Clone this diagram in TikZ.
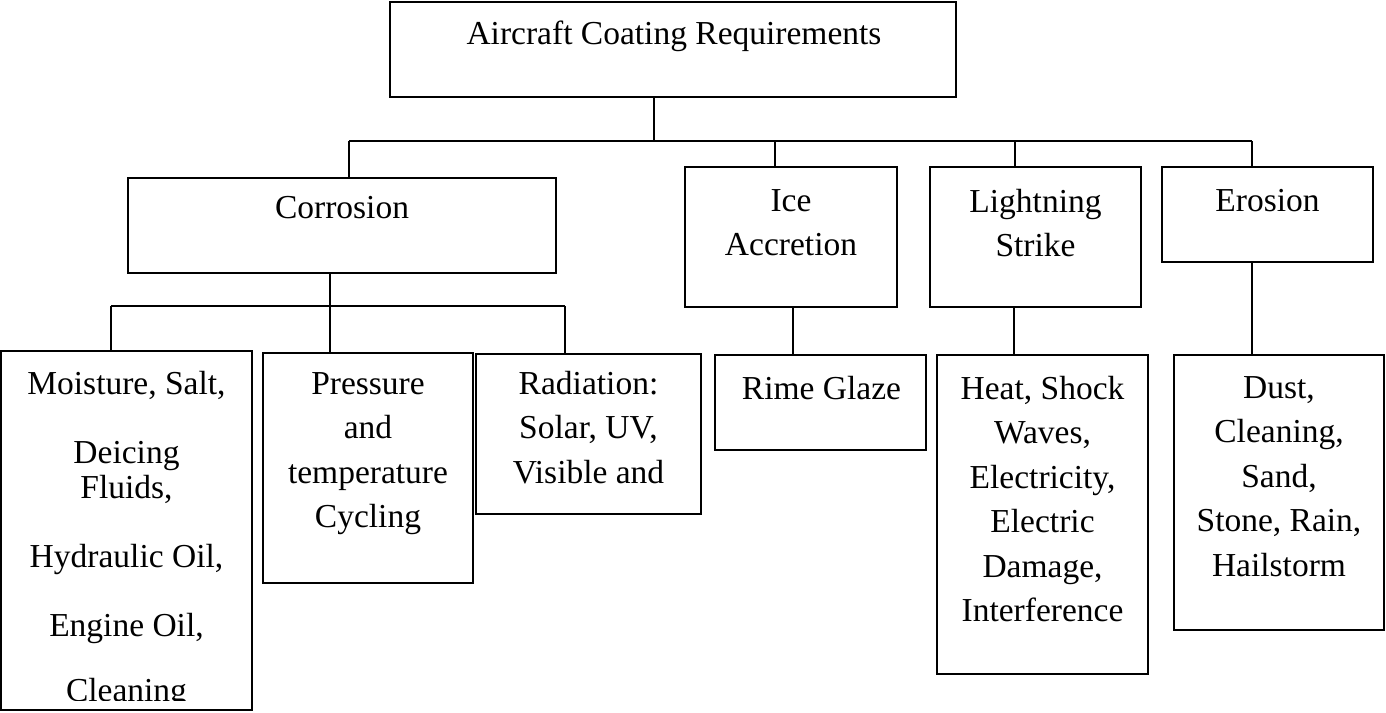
\documentclass[tikz,border=0pt]{standalone}
\usepackage{fontspec}
\setmainfont{Liberation Serif}
\usetikzlibrary{calc}
\tikzset{
  box/.style={draw, line width=1.3pt, inner sep=0pt},
  txt/.style={anchor=north, inner sep=0pt, align=center, font=\fontsize{16.75pt}{22.25pt}\selectfont},
  conn/.style={line width=0.9pt},
}
\begin{document}
\begin{tikzpicture}[x=0.5pt,y=-0.5pt]
\useasboundingbox (0,0) rectangle (1386,712);
% boxes
\node[box, minimum width=283pt, minimum height=47.5pt] (top) at (673,49.5) {};
\node[box, minimum width=214pt, minimum height=47.5pt] (corr) at (342,225.5) {};
\node[box, minimum width=106pt, minimum height=70pt] (ice) at (791,237) {};
\node[box, minimum width=105.5pt, minimum height=70pt] (light) at (1035.5,237) {};
\node[box, minimum width=105.5pt, minimum height=47.5pt] (eros) at (1267.5,214.5) {};
\node[box, minimum width=125.5pt, minimum height=179.5pt] (moist) at (126.5,530.5) {};
\node[box, minimum width=105pt, minimum height=115pt] (press) at (368,468) {};
\node[box, minimum width=112.5pt, minimum height=80pt] (rad) at (588.5,434) {};
\node[box, minimum width=105.5pt, minimum height=47.5pt] (rime) at (820.5,402.5) {};
\node[box, minimum width=105.5pt, minimum height=159.5pt] (heat) at (1042.5,514.5) {};
\node[box, minimum width=105pt, minimum height=137.5pt] (dust) at (1279,492.5) {};
% texts
\node[txt] (ttop) at ($(top.north)+(1,20)$) {Aircraft Coating Requirements};
\node[txt] (tcorr) at ($(corr.north)+(0,19)$) {Corrosion};
\node[txt] (tice) at ($(ice.north)+(0,23)$) {Ice\\Accretion};
\node[txt] (tlight) at ($(light.north)+(0,23)$) {Lightning\\Strike};
\node[txt] (teros) at ($(eros.north)+(0,23)$) {Erosion};
\begin{scope}
\clip (0,0) rectangle (1386,700);
\node[txt, font=\fontsize{16.75pt}{17.5pt}\selectfont] (tmoist) at ($(moist.north)+(0,21)$)
  {Moisture, Salt,\\[17pt] Deicing\\ Fluids,\\[17pt] Hydraulic Oil,\\[17pt] Engine Oil,\\[15pt] Cleaning};
\end{scope}
\node[txt] (tpress) at ($(press.north)+(0,20)$) {Pressure\\and\\temperature\\Cycling};
\node[txt] (trad) at ($(rad.north)+(0,18)$) {Radiation:\\Solar, UV,\\Visible and};
\node[txt] (trime) at ($(rime.north)+(1,22)$) {Rime Glaze};
\node[txt] (theat) at ($(heat.north)+(0,22)$) {Heat, Shock\\Waves,\\Electricity,\\Electric\\Damage,\\Interference};
\node[txt] (tdust) at ($(dust.north)+(0,22)$) {Dust,\\Cleaning,\\Sand,\\Stone, Rain,\\Hailstorm};
% connectors level 1
\coordinate (b0) at (654,141);
\coordinate (d1) at (349,141);
\coordinate (d2) at (775,141);
\coordinate (d3) at (1015,141);
\coordinate (d4) at (1252,141);
\draw[conn] (top.south -| b0) -- (b0);
\draw[conn] (d1) -- (d4);
\draw[conn] (d1) -- (d1 |- corr.north);
\draw[conn] (d2) -- (d2 |- ice.north);
\draw[conn] (d3) -- (d3 |- light.north);
\draw[conn] (d4) -- (d4 |- eros.north);
% corrosion children
\coordinate (c0) at (330,306);
\coordinate (e1) at (111,306);
\coordinate (e3) at (565,306);
\draw[conn] (corr.south -| c0) -- (c0);
\draw[conn] (e1) -- (e3);
\draw[conn] (e1) -- (e1 |- moist.north);
\draw[conn] (c0) -- (c0 |- press.north);
\draw[conn] (e3) -- (e3 |- rad.north);
% other children
\coordinate (f1) at (793,330);
\coordinate (f2) at (1014,330);
\coordinate (f3) at (1252,330);
\draw[conn] (ice.south -| f1) -- (f1 |- rime.north);
\draw[conn] (light.south -| f2) -- (f2 |- heat.north);
\draw[conn] (eros.south -| f3) -- (f3 |- dust.north);
\end{tikzpicture}
\end{document}
